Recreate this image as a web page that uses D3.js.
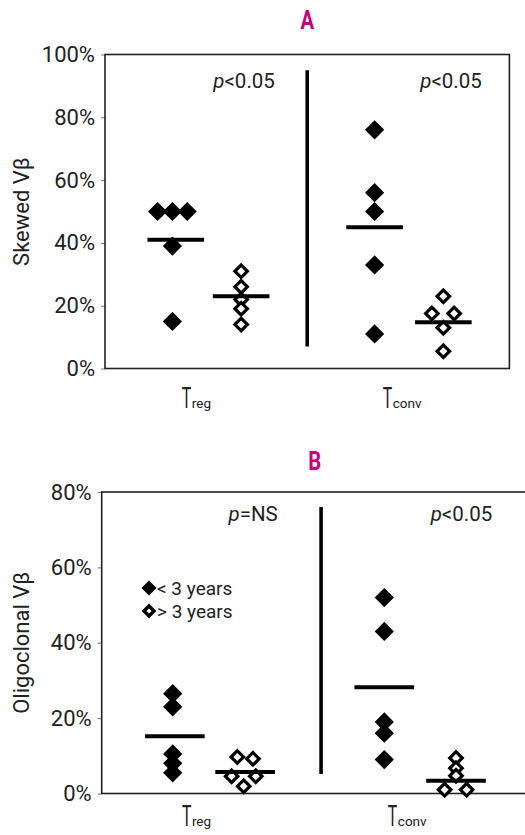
<!DOCTYPE html>
<html>
<head>
<meta charset="utf-8">
<script src="https://cdnjs.cloudflare.com/ajax/libs/d3/7.8.5/d3.min.js"></script>
<style>
  body { margin: 0; background: #fff; }
  svg { display: block; font-family: Roboto, "Liberation Sans", sans-serif; }
</style>
</head>
<body>
<div id="chart"></div>
<script>
// ---- data ----
// x values are the Excel-style x of each point (1,2 = Treg, 4,5 = Tconv)
var groups = ["reg", "conv"];

// panel A : skewed Vb (%)
var aTicks = [0, 20, 40, 60, 80, 100];
var aTregLo = [50, 50, 50, 39, 15];
var aTregLoX = [0.78, 1, 1.22, 1, 1];
var aTregHi = [31, 26, 22, 19, 14];
var aTregHiX = [2.02, 2.02, 2.02, 2.02, 2.02];
var aTconvLo = [76, 56, 50, 33, 11];
var aTconvLoX = [4, 4, 4, 4, 4];
var aTconvHi = [23, 17.5, 17.5, 13, 5.5];
var aTconvHiX = [5.02, 4.85, 5.18, 5.02, 5.02];
var aMeans = [41, 23, 45, 14.7];
var aMeanX = [1.05, 2.02, 4, 5.02];
var aPvals = ["<0.05", "<0.05"];

// panel B : oligoclonal Vb (%)
var bTicks = [0, 20, 40, 60, 80];
var bTregLo = [26.5, 23, 10.5, 8, 5.5];
var bTregLoX = [1, 1, 1, 1, 1];
var bTregHi = [9.7, 9.2, 4.6, 4.6, 1.9];
var bTregHiX = [1.91, 2.13, 1.83, 2.17, 2];
var bTconvLo = [52, 43, 19, 16, 9];
var bTconvLoX = [3.98, 3.98, 3.98, 3.98, 3.98];
var bTconvHi = [9.4, 6.7, 4.7, 1, 1];
var bTconvHiX = [4.99, 4.99, 4.99, 4.83, 5.14];
var bMeans = [15.2, 5.7, 28.2, 3.4];
var bMeanX = [1.03, 2.02, 3.98, 4.99];
var bPvals = ["=NS", "<0.05"];

var legendLabels = ["< 3 years", "> 3 years"];

// ---- layout ----
var svgWidth = 525, svgHeight = 835;
var ink = "#222";

var svg = d3.select("#chart").append("svg")
  .attr("width", svgWidth)
  .attr("height", svgHeight);

var diamond = function(size) {
  return d3.symbol().type(d3.symbolSquare).size(size)();
};

function drawPanel(p) {
  var x = d3.scaleLinear().domain([0, 6]).range([p.left, p.right]);
  var y = d3.scaleLinear().domain([0, p.yMax]).range([p.bottom, p.top]);

  // panel letter
  svg.append("text")
    .attr("transform", `translate(${x(3)}, ${p.letterY}) scale(0.78,1)`)
    .attr("text-anchor", "middle")
    .attr("font-size", 26)
    .attr("font-weight", 700)
    .attr("fill", "#c4007c")
    .text(p.letter);

  // y axis
  var yAxis = d3.axisLeft(y)
    .tickValues(p.ticks)
    .tickSize(4)
    .tickPadding(6)
    .tickFormat(d => d + "%");

  var ax = svg.append("g")
    .attr("transform", `translate(${p.left}, 0)`)
    .call(yAxis);
  ax.attr("font-family", null).attr("font-size", null);
  ax.select(".domain").remove();
  ax.selectAll("line").attr("stroke", "#777");
  ax.selectAll("text").attr("font-size", 22).attr("fill", ink);

  // plot box
  svg.append("rect")
    .attr("x", x(0))
    .attr("y", y(p.yMax))
    .attr("width", x(6) - x(0))
    .attr("height", y(0) - y(p.yMax))
    .attr("fill", "none")
    .attr("stroke", ink)
    .attr("stroke-width", 1.6);

  // y title
  svg.append("text")
    .attr("transform", `translate(29, ${(p.top + p.bottom) / 2}) rotate(-90)`)
    .attr("text-anchor", "middle")
    .attr("font-size", 22)
    .attr("fill", ink)
    .text(p.yTitle);

  // divider
  svg.append("line")
    .attr("x1", x(p.divX)).attr("x2", x(p.divX))
    .attr("y1", y(p.divTop)).attr("y2", y(p.divBottom))
    .attr("stroke", "#000")
    .attr("stroke-width", 3.6);

  // p values
  p.pvals.forEach(function(pv, i) {
    var t = svg.append("text")
      .attr("x", x(p.pX[i]))
      .attr("y", y(p.pY))
      .attr("text-anchor", "end")
      .attr("font-size", 20.5)
      .attr("fill", ink);
    t.append("tspan").attr("font-style", "italic").text("p");
    t.append("tspan").text(pv);
  });

  // points
  p.series.forEach(function(s) {
    var pts = s.vals.map((v, i) => ({ v: v, x: s.xs[i] }));
    svg.append("g").selectAll("path")
      .data(pts)
      .enter()
      .append("path")
      .attr("d", s.filled ? diamond(185) : diamond(78))
      .attr("transform", d => `translate(${x(d.x)}, ${y(d.v)}) rotate(45)`)
      .attr("fill", s.filled ? "#000" : "#fff")
      .attr("stroke", "#000")
      .attr("stroke-width", s.filled ? 0 : 3.2);
  });

  // mean bars
  svg.append("g").selectAll("line")
    .data(p.means)
    .enter()
    .append("line")
    .attr("x1", (d, i) => x(p.meanX[i] - 0.42))
    .attr("x2", (d, i) => x(p.meanX[i] + 0.42))
    .attr("y1", d => y(d))
    .attr("y2", d => y(d))
    .attr("stroke", "#000")
    .attr("stroke-width", 4);

  // category labels, T + subscript
  groups.forEach(function(g, i) {
    var lx = x(p.labelX[i]);
    svg.append("text")
      .attr("transform", `translate(${lx}, ${p.labelY}) scale(0.61,1.1)`)
      .attr("font-size", 26)
      .attr("fill", ink)
      .text("T");
    svg.append("text")
      .attr("x", lx + 10)
      .attr("y", p.labelY)
      .attr("font-size", 13.5)
      .attr("fill", ink)
      .text(g);
  });

  return { x: x, y: y };
}

drawPanel({
  letter: "A", letterY: 29,
  left: 105, right: 509.4, top: 54.5, bottom: 368.5, yMax: 100,
  ticks: aTicks, yTitle: "Skewed V\u03b2",
  divX: 3.0, divTop: 95, divBottom: 7,
  pvals: aPvals, pX: [2.52, 5.59], pY: 89.2,
  series: [
    { vals: aTregLo, xs: aTregLoX, filled: true },
    { vals: aTregHi, xs: aTregHiX, filled: false },
    { vals: aTconvLo, xs: aTconvLoX, filled: true },
    { vals: aTconvHi, xs: aTconvHiX, filled: false }
  ],
  means: aMeans, meanX: aMeanX,
  labelX: [1.14, 4.12], labelY: 408
});

drawPanel({
  letter: "B", letterY: 470,
  left: 101.7, right: 527.7, top: 492, bottom: 793.5, yMax: 80,
  ticks: bTicks, yTitle: "Oligoclonal V\u03b2",
  divX: 3.09, divTop: 76, divBottom: 5.2,
  pvals: bPvals, pX: [2.48, 5.5], pY: 72.4,
  series: [
    { vals: bTregLo, xs: bTregLoX, filled: true },
    { vals: bTregHi, xs: bTregHiX, filled: false },
    { vals: bTconvLo, xs: bTconvLoX, filled: true },
    { vals: bTconvHi, xs: bTconvHiX, filled: false }
  ],
  means: bMeans, meanX: bMeanX,
  labelX: [1.13, 4.03], labelY: 826
});

// legend (panel B)
var legend = svg.append("g").attr("transform", "translate(149, 588)");
legendLabels.forEach(function(lbl, i) {
  var row = legend.append("g").attr("transform", `translate(0, ${i * 23})`);
  row.append("path")
    .attr("d", i === 0 ? diamond(115) : diamond(50))
    .attr("transform", "rotate(45)")
    .attr("fill", i === 0 ? "#000" : "#fff")
    .attr("stroke", "#000")
    .attr("stroke-width", i === 0 ? 0 : 3.4);
  row.append("text")
    .attr("x", 8)
    .attr("y", 7)
    .attr("font-size", 19)
    .attr("fill", ink)
    .text(lbl);
});
</script>
</body>
</html>
